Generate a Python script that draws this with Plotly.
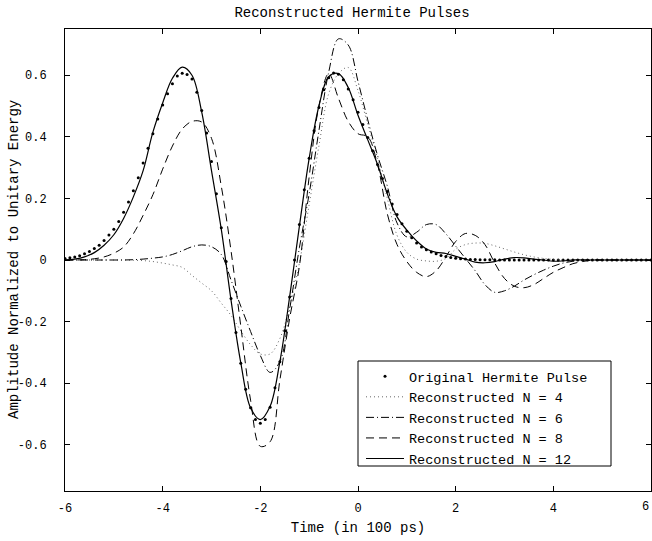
import numpy as np
import plotly.graph_objects as go

# ---------------- data ----------------
t_orig = np.round(np.arange(-6.0, 6.0001, 0.1), 2)
orig = [
    0.005, 0.007, 0.010, 0.014, 0.020, 0.028, 0.037, 0.048, 0.063, 0.081,   # -6.0 .. -5.1
    0.100, 0.125, 0.155, 0.188, 0.225, 0.267, 0.315, 0.363, 0.410, 0.458,   # -5.0 .. -4.1
    0.503, 0.540, 0.572, 0.597, 0.606, 0.602, 0.588, 0.545, 0.485, 0.412,   # -4.0 .. -3.1
    0.320, 0.215, 0.105, -0.005, -0.125, -0.235, -0.335, -0.420, -0.480, -0.518,  # -3.0 .. -2.1
    -0.530, -0.518, -0.478, -0.415, -0.330, -0.230, -0.120, 0.000, 0.115, 0.228,  # -2.0 .. -1.1
    0.330, 0.420, 0.495, 0.553, 0.592, 0.607, 0.603, 0.585, 0.555, 0.520,   # -1.0 .. -0.1
    0.480, 0.440, 0.398, 0.355, 0.310, 0.265, 0.222, 0.182, 0.148, 0.118,   # 0.0 .. 0.9
    0.093, 0.072, 0.055, 0.042, 0.033, 0.026, 0.020, 0.015, 0.011, 0.008,   # 1.0 .. 1.9
    0.006, 0.004, 0.003, 0.002, 0.002, 0.001, 0.001, 0.001, 0.001, 0.000,   # 2.0 .. 2.9
    0.000, 0.000, 0.000, 0.000, 0.000, 0.000, 0.000, 0.000, 0.000, 0.000,   # 3.0 .. 3.9
    0.000, 0.000, 0.000, 0.000, 0.000, 0.000, 0.000, 0.000, 0.000, 0.000,   # 4.0 .. 4.9
    0.000, 0.000, 0.000, 0.000, 0.000, 0.000, 0.000, 0.000, 0.000, 0.000,   # 5.0 .. 5.9
    0.000,                                                                  # 6.0
]

t_rec = np.round(np.arange(-6.0, 6.0001, 0.2), 2)
rec_n4 = [
    0.000, 0.000, 0.000, 0.000, 0.000, 0.000, 0.000, -0.001, -0.002, -0.005,   # -6.0 .. -4.2
    -0.010, -0.016, -0.024, -0.050, -0.075, -0.100, -0.140, -0.180, -0.230, -0.275,  # -4.0 .. -2.2
    -0.305, -0.305, -0.255, -0.150, -0.010, 0.180, 0.370, 0.540, 0.605, 0.625,   # -2.0 .. -0.2
    0.550, 0.440, 0.330, 0.200, 0.080, 0.025, 0.003, -0.003, -0.004, 0.005,     # 0.0 .. 1.8
    0.035, 0.050, 0.055, 0.054, 0.046, 0.036, 0.026, 0.017, 0.010, 0.005,      # 2.0 .. 3.8
    0.002, 0.000, 0.000, 0.000, 0.000, 0.000, 0.000, 0.000, 0.000, 0.000,      # 4.0 .. 5.8
    0.000,                                                                     # 6.0
]
rec_n6 = [
    0.000, 0.000, 0.000, 0.000, 0.000, 0.000, 0.000, 0.001, 0.003, 0.006,      # -6.0 .. -4.2
    0.010, 0.018, 0.030, 0.043, 0.049, 0.043, 0.018, -0.065, -0.150, -0.232,   # -4.0 .. -2.2
    -0.310, -0.365, -0.330, -0.160, 0.040, 0.215, 0.420, 0.610, 0.718, 0.698,  # -2.0 .. -0.2
    0.580, 0.455, 0.340, 0.240, 0.120, 0.075, 0.090, 0.115, 0.115, 0.085,      # 0.0 .. 1.8
    0.045, 0.005, -0.035, -0.080, -0.105, -0.100, -0.085, -0.065, -0.048, -0.033,  # 2.0 .. 3.8
    -0.020, -0.010, -0.004, 0.000, 0.000, 0.000, 0.000, 0.000, 0.000, 0.000,   # 4.0 .. 5.8
    0.000,                                                                     # 6.0
]
rec_n8 = [
    0.000, 0.000, 0.001, 0.004, 0.010, 0.022, 0.042, 0.085, 0.145, 0.212,      # -6.0 .. -4.2
    0.295, 0.370, 0.425, 0.450, 0.448, 0.395, 0.240, 0.030, -0.215, -0.455,    # -4.0 .. -2.2
    -0.605, -0.590, -0.390, -0.190, -0.020, 0.270, 0.500, 0.605, 0.525, 0.450, # -2.0 .. -0.2
    0.410, 0.400, 0.310, 0.150, 0.050, -0.005, -0.040, -0.054, -0.035, 0.010,  # 0.0 .. 1.8
    0.060, 0.086, 0.080, 0.050, -0.010, -0.060, -0.085, -0.090, -0.080, -0.060,  # 2.0 .. 3.8
    -0.040, -0.025, -0.012, -0.005, 0.000, 0.000, 0.000, 0.000, 0.000, 0.000,  # 4.0 .. 5.8
    0.000,                                                                     # 6.0
]
rec_n12 = [
    0.000, 0.003, 0.010, 0.024, 0.048, 0.082, 0.135, 0.205, 0.290, 0.415,      # -6.0 .. -4.2
    0.510, 0.590, 0.626, 0.600, 0.480, 0.290, 0.100, -0.130, -0.334, -0.480,   # -4.0 .. -2.2
    -0.518, -0.475, -0.330, -0.120, 0.110, 0.330, 0.500, 0.595, 0.605, 0.560,  # -2.0 .. -0.2
    0.470, 0.390, 0.310, 0.215, 0.140, 0.097, 0.062, 0.036, 0.025, 0.021,      # 0.0 .. 1.8
    0.012, 0.003, -0.007, -0.009, -0.005, 0.003, 0.008, 0.007, 0.003, 0.000,   # 2.0 .. 3.8
    -0.004, -0.003, 0.000, 0.000, 0.000, 0.000, 0.000, 0.000, 0.000, 0.000,    # 4.0 .. 5.8
    0.000,                                                                     # 6.0
]

x_ticks = [-6, -4, -2, 0, 2, 4, 6]
y_ticks = [-0.6, -0.4, -0.2, 0, 0.2, 0.4, 0.6]
y_tick_labels = ["-0.6", "-0.4", "-0.2", "0", "0.2", "0.4", "0.6"]

FONT = "Liberation Mono"
W, H = 652, 541
ML, MR, MT, MB = 65, 1, 29, 50
PW, PH = W - ML - MR, H - MT - MB


def px_x(px):
    return (px - ML) / PW


def px_y(py):
    return (H - MB - py) / PH


fig = go.Figure()
fig.add_trace(go.Scatter(x=t_orig, y=orig, mode="markers", name="Original Hermite Pulse",
                         marker=dict(size=3, color="black")))
fig.add_trace(go.Scatter(x=t_rec, y=rec_n4, mode="lines", name="Reconstructed N = 4",
                         line=dict(color="#666666", width=1, dash="1px,3px", shape="spline")))
fig.add_trace(go.Scatter(x=t_rec, y=rec_n6, mode="lines", name="Reconstructed N = 6",
                         line=dict(color="black", width=1, dash="8px,3px,1px,3px", shape="spline")))
fig.add_trace(go.Scatter(x=t_rec, y=rec_n8, mode="lines", name="Reconstructed N = 8",
                         line=dict(color="black", width=1, dash="8px,5px", shape="spline")))
fig.add_trace(go.Scatter(x=t_rec, y=rec_n12, mode="lines", name="Reconstructed N = 12",
                         line=dict(color="black", width=1.2, shape="spline")))

axis_common = dict(showgrid=False, zeroline=False, showline=True, linecolor="black", linewidth=1,
                   mirror="allticks", ticks="inside", ticklen=5, tickcolor="black",
                   tickfont=dict(family=FONT, size=12, color="black"))

fig.update_layout(
    width=W, height=H,
    margin=dict(l=ML, r=MR, t=MT, b=MB),
    paper_bgcolor="white", plot_bgcolor="white",
    font=dict(family=FONT, size=14, color="black"),
    title=dict(text="Reconstructed Hermite Pulses", x=352 / W, xanchor="center",
               y=1 - 12 / H, yanchor="middle", font=dict(family=FONT, size=14, color="black")),
    xaxis=dict(range=[-6, 6], tickvals=x_ticks, ticktext=[str(v) for v in x_ticks[:-1]] + [""],
               title=dict(text="Time (in 100 ps)", standoff=6, font=dict(family=FONT, size=14)),
               ticklabelstandoff=6, **axis_common),
    yaxis=dict(range=[-0.75, 0.75], tickvals=y_ticks, ticktext=y_tick_labels,
               ticklabelstandoff=15, **axis_common),
    legend=dict(x=px_x(361), y=px_y(361), xanchor="left", yanchor="top",
                bgcolor="rgba(0,0,0,0)", borderwidth=0, font=dict(family=FONT, size=13.5),
                tracegroupgap=0, itemwidth=38),
    showlegend=True,
    shapes=[dict(type="rect", xref="paper", yref="paper", layer="above",
                 x0=px_x(358), x1=px_x(611), y0=px_y(466), y1=px_y(361),
                 line=dict(color="black", width=1), fillcolor="white")],
    annotations=[
        dict(text="6", x=6, xref="x", y=px_y(507), yref="paper",
             xanchor="right", yanchor="middle", showarrow=False,
             font=dict(family=FONT, size=12, color="black")),
        dict(text="Amplitude Normalized to Unitary Energy", textangle=-90,
             x=px_x(14), xref="paper", y=0.5, yref="paper",
             xanchor="center", yanchor="middle", showarrow=False,
             font=dict(family=FONT, size=14, color="black")),
    ],
)

fig.write_html("out.html")
